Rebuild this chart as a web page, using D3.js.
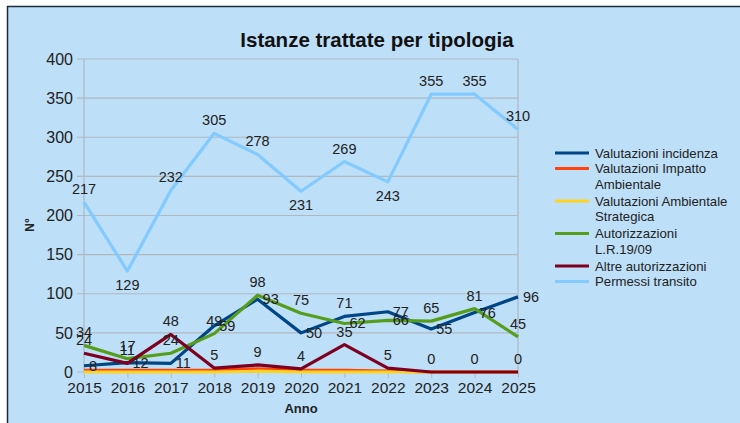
<!DOCTYPE html>
<html>
<head>
<meta charset="utf-8">
<script src="https://cdn.jsdelivr.net/npm/d3@7"></script>
<style>
  body { margin: 0; background: #fff; }
  text { font-family: "Liberation Sans", Arial, sans-serif; }
</style>
</head>
<body>
<div id="graph"></div>
<script>
var years = ["2015","2016","2017","2018","2019","2020","2021","2022","2023","2024","2025"]
var yTicks = [0, 50, 100, 150, 200, 250, 300, 350, 400]

var names = ["Valutazioni incidenza", "Valutazioni Impatto Ambientale", "Valutazioni Ambientale Strategica",
             "Autorizzazioni L.R.19/09", "Altre autorizzazioni", "Permessi transito"]
var incidenza  = [8, 12, 11, 59, 93, 50, 71, 77, 55, 76, 96]
var impatto    = [2, 2, 2, 2, 4, 2, 2, 1, 0, 0, 0]
var strategica = [0, 0, 0, 0, 1, 0, 0, 0, 0, 0, 0]
var autorizz   = [34, 17, 24, 49, 98, 75, 62, 66, 65, 81, 45]
var altre      = [24, 11, 48, 5, 9, 4, 35, 5, 0, 0, 0]
var permessi   = [217, 129, 232, 305, 278, 231, 269, 243, 355, 355, 310]

// label placement: a = above, b = below, r = right, null = no labels
var placeIncidenza = ["r","r","r","r","r","r","a","r","r","r","r"]
var placeAutorizz  = ["a","a","a","a","a","a","r","r","a","a","a"]
var placeAltre     = ["a","a","a","a","a","a","a","a","a","a","a"]
var placePermessi  = ["a","b","a","a","a","b","a","b","a","a","a"]

var colors = ["#004586", "#ff420e", "#ffd320", "#579d1c", "#7e0021", "#83caff"]

var series = [
  {name: names[0], values: incidenza, color: colors[0], place: placeIncidenza},
  {name: names[1], values: impatto, color: colors[1], place: null},
  {name: names[2], values: strategica, color: colors[2], place: null},
  {name: names[3], values: autorizz, color: colors[3], place: placeAutorizz},
  {name: names[4], values: altre, color: colors[4], place: placeAltre},
  {name: names[5], values: permessi, color: colors[5], place: placePermessi}
]

var width = 740, height = 423
var margin = {top: 59, left: 84, bottom: 51, right: 222}
var chartWidth = width - margin.left - margin.right
var chartHeight = height - margin.top - margin.bottom

var svg = d3.select("#graph").append("svg")
    .attr("width", width).attr("height", height)

// chart background + frame
svg.append("rect").attr("x", 8).attr("y", 7).attr("width", width - 8).attr("height", height - 7)
    .attr("fill", "#bddff8")
svg.append("line").attr("x1", 7).attr("x2", width).attr("y1", 6.5).attr("y2", 6.5)
    .attr("stroke", "#1c2a3a").attr("stroke-width", 1.5)
svg.append("line").attr("x1", 7.5).attr("x2", 7.5).attr("y1", 6).attr("y2", height)
    .attr("stroke", "#1c2a3a").attr("stroke-width", 1.5)

svg.append("text").attr("x", 377).attr("y", 47).attr("text-anchor", "middle")
    .attr("font-size", 20.5).attr("font-weight", "bold").attr("fill", "#111")
    .text("Istanze trattate per tipologia")

var chartLayer = svg.append("g").attr("transform", "translate(" + [margin.left, margin.top] + ")")

var x = d3.scalePoint().domain(years).range([0, chartWidth])
var y = d3.scaleLinear().domain([0, 400]).range([chartHeight, 0])

// gridlines
chartLayer.append("g").selectAll("line").data(yTicks).enter().append("line")
    .attr("x1", -7).attr("x2", chartWidth)
    .attr("y1", function(d) { return y(d) }).attr("y2", function(d) { return y(d) })
    .attr("stroke", "#b0b8c0").attr("stroke-width", 1.2)
chartLayer.append("line").attr("x1", 0).attr("x2", 0).attr("y1", 0).attr("y2", chartHeight)
    .attr("stroke", "#b0b8c0").attr("stroke-width", 1.2)
chartLayer.append("line").attr("x1", chartWidth).attr("x2", chartWidth).attr("y1", 0).attr("y2", chartHeight)
    .attr("stroke", "#b0b8c0").attr("stroke-width", 1.2)

// axes
var yAxis = chartLayer.append("g").call(d3.axisLeft(y).tickValues(yTicks).tickSize(0).tickPadding(11))
var xAxis = chartLayer.append("g").attr("transform", "translate(0," + chartHeight + ")")
    .call(d3.axisBottom(x).tickSize(6).tickPadding(4))
yAxis.select(".domain").remove()
xAxis.select(".domain").attr("stroke", "#b0b8c0")
xAxis.selectAll(".tick line").attr("stroke", "#b0b8c0")
chartLayer.selectAll(".tick text").attr("font-size", 15.5).attr("fill", "#222")
    .attr("font-family", "Liberation Sans, Arial, sans-serif")
yAxis.selectAll(".tick text").attr("font-size", 16)

chartLayer.append("text").attr("x", chartWidth / 2).attr("y", chartHeight + 41)
    .attr("text-anchor", "middle").attr("font-size", 13).attr("font-weight", "bold").attr("fill", "#222")
    .text("Anno")
svg.append("text").attr("transform", "translate(34,225) rotate(-90)")
    .attr("text-anchor", "middle").attr("font-size", 12).attr("font-weight", "bold").attr("fill", "#222")
    .text("N°")

// lines
var line = d3.line().x(function(d, i) { return x(years[i]) }).y(function(d) { return y(d) })
chartLayer.append("g").selectAll("path").data(series).enter().append("path")
    .attr("d", function(d) { return line(d.values) })
    .attr("fill", "none").attr("stroke", function(d) { return d.color })
    .attr("stroke-width", 3.2).attr("stroke-linejoin", "round")

// data labels
series.forEach(function(s) {
  if (!s.place) return
  chartLayer.append("g").selectAll("text").data(s.values).enter().append("text")
      .attr("x", function(d, i) { return x(years[i]) + (s.place[i] === "r" ? 5 : 0) })
      .attr("y", function(d, i) {
        var p = s.place[i]
        if (p === "a") return y(d) - 8
        if (p === "b") return y(d) + 19
        return y(d) + 5
      })
      .attr("text-anchor", function(d, i) { return s.place[i] === "r" ? "start" : "middle" })
      .attr("font-size", 14.5).attr("fill", "#222")
      .text(function(d) { return d })
})

// legend
var legend = svg.append("g").attr("transform", "translate(555,153)")
var rowY = 0
series.forEach(function(s) {
  var g = legend.append("g").attr("transform", "translate(0," + rowY + ")")
  g.append("line").attr("x1", 0).attr("x2", 34).attr("y1", 0).attr("y2", 0)
      .attr("stroke", s.color).attr("stroke-width", 3.2)
  var t = g.append("text").attr("x", 40).attr("y", 4.5).attr("font-size", 13.2).attr("fill", "#222")
  // simple word wrap
  var words = s.name.split(" "), lineWords = [], lines = []
  var probe = t.append("tspan")
  words.forEach(function(w) {
    lineWords.push(w)
    probe.text(lineWords.join(" "))
    if (probe.node().getComputedTextLength() > 140 && lineWords.length > 1) {
      lineWords.pop()
      lines.push(lineWords.join(" "))
      lineWords = [w]
    }
  })
  lines.push(lineWords.join(" "))
  probe.remove()
  lines.forEach(function(l, k) {
    t.append("tspan").attr("x", 40).attr("dy", k === 0 ? 0 : 15.5).text(l)
  })
  rowY += lines.length * 15.5 + (lines.length > 1 ? 1.5 : 0)
})
</script>
</body>
</html>
